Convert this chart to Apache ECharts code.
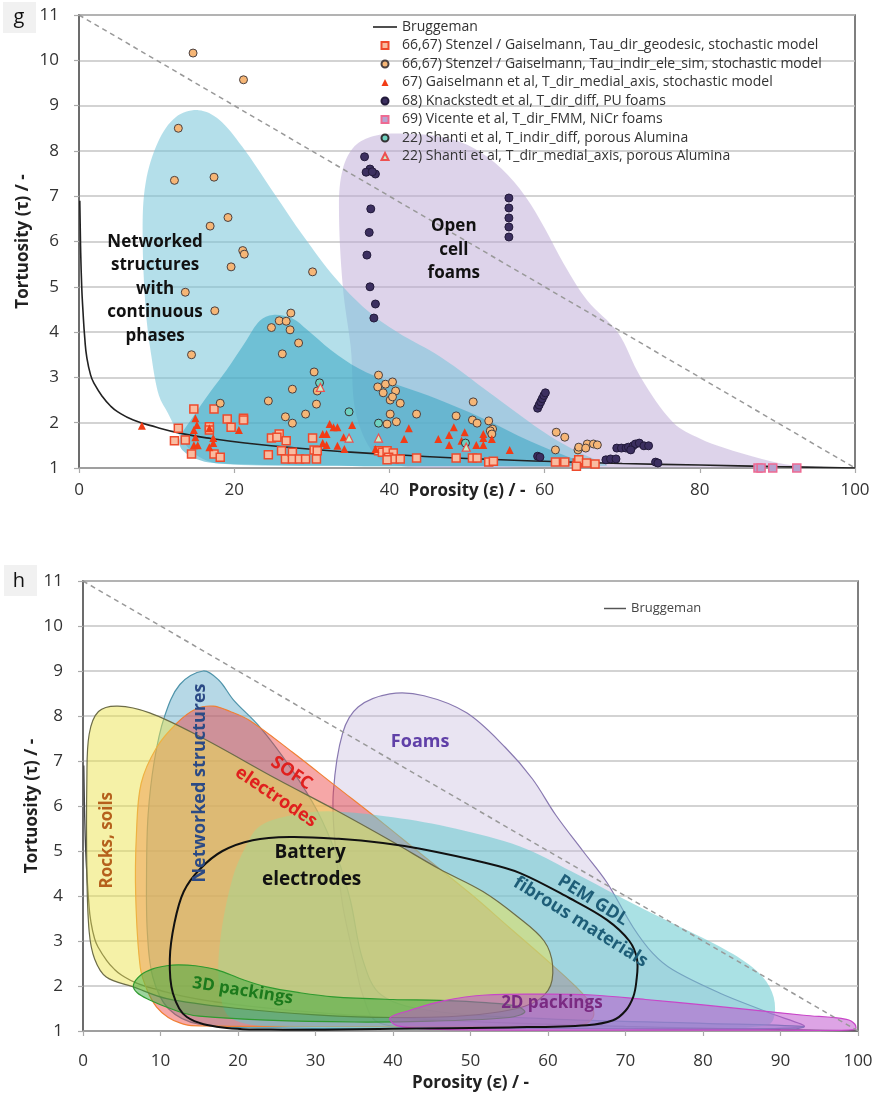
<!DOCTYPE html>
<html><head><meta charset="utf-8">
<script src="https://cdn.jsdelivr.net/npm/echarts@6/dist/echarts.min.js"></script>
<style>html,body{margin:0;padding:0;background:#fff}#c{width:880px;height:1101px}</style>
</head><body><div id="c"></div>
<script>
// ---------- data (porosity %, tortuosity) ----------
const xTicksTop = [0, 20, 40, 60, 80, 100];
const xTicksBottom = [0, 10, 20, 30, 40, 50, 60, 70, 80, 90, 100];
const yTicks = [1, 2, 3, 4, 5, 6, 7, 8, 9, 10, 11];
const limitLine = [[0, 11], [100, 1]];
const bruggeman = [[0.1,6.9],[0.2,5.9],[0.35,5.0],[0.5,4.5],[0.75,3.85],[1,3.45],[1.5,3.05],[2,2.85],[3,2.58],[4,2.38],[5,2.24],[7,2.06],[10,1.9],[13,1.77],[17,1.65],[22,1.54],[28,1.44],[35,1.35],[42,1.28],[50,1.21],[60,1.15],[70,1.1],[80,1.065],[90,1.03],[100,1.0]];

const sGeodesic = [[14.8,2.3],[17.4,2.3],[12.8,1.88],[12.3,1.6],[13.7,1.62],[14.5,1.31],[16.8,1.91],[16.8,1.84],[17.4,1.31],[18.2,1.24],[19.1,2.08],[19.6,1.9],[21.2,2.1],[21.2,2.06],[24.4,1.29],[24.8,1.66],[25.8,1.75],[25.5,1.68],[26.7,1.6],[26.1,1.38],[26.6,1.2],[27.5,1.35],[27.5,1.2],[28.4,1.2],[29.2,1.2],[30.1,1.66],[30.3,1.4],[30.7,1.38],[30.6,1.2],[38.6,1.38],[39.1,1.35],[39.7,1.38],[40.5,1.33],[39.9,1.24],[40.6,1.2],[41.4,1.2],[39.7,1.18],[43.5,1.22],[48.6,1.22],[50.7,1.22],[51.3,1.22],[52.8,1.13],[53.4,1.15],[61.4,1.13],[62.6,1.13],[64.2,1.11],[64.4,1.18],[65.4,1.11],[66.5,1.09],[64.1,1.04]];
const sEleSim = [[14.7,10.16],[21.2,9.57],[12.8,8.5],[12.3,7.35],[17.4,7.42],[19.2,6.53],[16.9,6.34],[21.1,5.8],[21.3,5.72],[19.6,5.44],[30.1,5.33],[13.7,4.88],[17.5,4.47],[14.5,3.5],[27.3,4.42],[25.8,4.25],[26.7,4.24],[24.8,4.1],[27.2,4.05],[28.3,3.76],[26.2,3.52],[30.3,3.12],[30.7,2.7],[27.5,2.74],[30.6,2.41],[24.4,2.48],[29.2,2.19],[26.6,2.13],[27.5,1.99],[18.2,2.43],[38.6,3.05],[38.5,2.79],[39.5,2.85],[40.4,2.9],[39.2,2.66],[40.8,2.7],[40.1,2.5],[40.4,2.57],[41.4,2.43],[40.1,2.19],[43.5,2.19],[39.7,1.97],[40.9,2.02],[48.6,2.15],[50.8,2.46],[50.7,2.06],[51.3,1.99],[52.8,2.04],[53.3,1.86],[53,1.82],[53.2,1.75],[61.5,1.79],[62.6,1.68],[61.4,1.4],[64.3,1.4],[64.4,1.46],[65.5,1.53],[66.3,1.53],[66.8,1.51],[65.3,1.44]];
const sMedial = [[8.1,1.93],[15,2.1],[15.2,1.95],[14.8,1.84],[15,1.68],[14.8,1.5],[15.3,1.5],[16.8,1.88],[17.3,1.66],[16.8,1.46],[17.3,1.55],[20.6,1.84],[32.3,1.97],[32.8,1.9],[33.3,1.9],[35.2,1.95],[31.4,1.75],[31.9,1.75],[34.1,1.68],[31.4,1.55],[31.9,1.51],[33.3,1.49],[34.2,1.42],[38.2,1.42],[42.5,1.88],[41.9,1.64],[46.3,1.64],[47.7,1.73],[48.3,1.9],[49.7,1.79],[49.3,1.6],[47.7,1.51],[51.2,1.51],[52.1,1.75],[52.1,1.66],[52.1,1.51],[53.2,1.64],[55.5,1.4]];
const sKnack = [[36.8,7.87],[37.5,7.6],[37,7.53],[38.2,7.49],[37.8,7.54],[37.6,6.72],[37.4,6.2],[37.1,5.7],[37.5,5.0],[38.2,4.62],[38,4.31],[55.4,6.96],[55.4,6.74],[55.4,6.52],[55.4,6.32],[55.4,6.1],[59.1,2.32],[59.3,2.39],[59.5,2.46],[59.7,2.53],[59.9,2.6],[60.1,2.66],[59.1,1.26],[59.4,1.24],[67.9,1.18],[68.5,1.2],[69.2,1.2],[69.3,1.44],[69.9,1.44],[70.5,1.44],[70.8,1.46],[71.4,1.49],[71.7,1.53],[72.2,1.55],[72.8,1.49],[73.4,1.49],[71.1,1.4],[74.3,1.13],[74.6,1.11]];
const sVicente = [[87.5,1.0],[87.9,1.0],[89.4,1.0],[92.5,1.0]];
const sShantiDiff = [[31,2.88],[34.8,2.24],[38.6,1.99],[49.8,1.55]];
const sShantiMedial = [[31.1,2.78],[34.8,1.66],[38.6,1.66],[49.9,1.46]];

// region outlines, panel g
const gFoams = [[33.5,6.8],[34,7.6],[35.5,8.1],[38,8.33],[42,8.38],[47,8.3],[51,8.05],[54.5,7.6],[57.5,7.0],[60,6.3],[62.5,5.5],[65.5,4.7],[69.4,4.0],[72.4,3.0],[76.6,2.0],[80,1.65],[83,1.45],[88,1.2],[92,1.06],[96,1.02],[60,1.02],[40,1.1],[36,2.0],[35,3.7],[34,5.0]];
const gNetwork = [[15.4,8.9],[18,8.7],[21,8.1],[25,7.1],[29,6.1],[33,5.2],[37,4.5],[41,4.0],[46.6,3.45],[53,2.65],[59.5,1.84],[64,1.38],[67,1.15],[68,1.05],[50,1.04],[30,1.05],[18,1.1],[15,1.3],[13,1.7],[11.5,2.2],[10.3,2.6],[9.3,3.5],[8.6,4.5],[8.2,6.2],[8.6,7.3],[10.2,8.2],[12.5,8.75]];
const gCore = [[25,4.38],[27.5,4.3],[29.4,4.05],[32.5,3.6],[36,3.2],[40,2.9],[45,2.6],[52,2.1],[58,1.6],[63,1.25],[66,1.08],[50,1.04],[30,1.05],[18,1.1],[15.6,1.17],[13.3,1.4],[13,1.65],[14.7,2.13],[17,2.7],[19,3.16],[21.5,3.8],[23.3,4.25]];

// region outlines, panel h
const hFoams = [[33.5,7.62],[35.5,8.2],[39.6,8.49],[44,8.45],[49.5,8.07],[54.5,7.3],[58,6.6],[61,5.8],[64.5,5.0],[67.6,4.3],[71,3.3],[73.5,2.73],[76.1,2.36],[82.2,1.84],[88.6,1.4],[92.9,1.09],[70,1.06],[45,1.08],[38,1.2],[36.1,1.8],[35,2.6],[33.5,3.8],[32.5,5.2],[32.3,6.3]];
const hPem = [[22.8,5.55],[27,5.8],[32,5.88],[40,5.75],[48,5.5],[56.4,5.1],[63,4.55],[69.3,3.98],[76,3.4],[82.2,2.87],[86.5,2.4],[88.6,1.98],[89.3,1.5],[88.5,1.15],[80,1.07],[50,1.06],[25,1.1],[19,1.3],[17.6,2.0],[17.7,3.0],[19.3,4.4],[21,5.1]];
const hNetwork = [[15.5,9.0],[17.5,8.8],[19.4,8.36],[22.8,7.76],[26.7,6.87],[30.2,5.9],[32.8,4.87],[34.5,3.9],[36.1,2.58],[38.5,1.8],[45,1.45],[60,1.27],[80,1.17],[93,1.1],[92,1.05],[60,1.05],[25,1.07],[15,1.15],[11,1.5],[9,2.2],[8.3,3.2],[8.2,4.5],[8.4,5.8],[9.2,7.0],[10.5,7.98],[12.5,8.7]];
const hRocks = [[0.5,6.6],[0.8,7.6],[2,8.1],[4.5,8.22],[8.6,8.07],[15,7.55],[25,6.6],[32.7,5.9],[40,5.2],[46,4.6],[51.6,4.1],[56,3.55],[59.5,3.0],[60.6,2.45],[60,1.9],[57,1.55],[50,1.35],[40,1.3],[30,1.36],[20,1.5],[10.8,1.72],[6.5,1.98],[3,2.2],[1.5,2.6],[0.8,3.2],[0.5,4.5]];
const hSofc = [[7.5,6.5],[9.5,7.3],[12.1,7.84],[14.5,8.15],[16.8,8.22],[19,8.1],[21.5,7.9],[27,7.2],[32.7,6.43],[38.7,5.62],[43.5,4.95],[50,4.05],[55,3.3],[60,2.55],[63.5,2.0],[65.5,1.6],[65.8,1.3],[64,1.12],[50,1.1],[30,1.1],[14,1.12],[12.5,1.18],[11,1.3],[9.5,1.53],[8.3,1.9],[7.4,2.4],[6.8,4.0],[6.9,5.4]];
const hBattery = [[11.2,2.6],[11.8,3.4],[13,4.1],[15.1,4.6],[18,5.0],[21.9,5.24],[26.7,5.31],[33,5.27],[38.7,5.18],[43.5,5.05],[51.6,4.75],[56.4,4.51],[62.8,3.95],[67.6,3.47],[70.5,3.0],[71.5,2.58],[71.4,2.1],[71,1.76],[70,1.45],[68.4,1.24],[65,1.13],[55,1.08],[40,1.05],[25.8,1.03],[18,1.08],[13.4,1.31],[11.6,1.84]];
const h3D = [[6.5,2.02],[7.5,2.25],[9,2.38],[10.8,2.45],[12.3,2.47],[14.5,2.45],[17.3,2.36],[20.5,2.15],[23.7,1.98],[28,1.85],[32.3,1.76],[40,1.7],[46,1.68],[52,1.63],[56,1.55],[57,1.42],[55,1.3],[45,1.22],[35,1.2],[23.7,1.24],[15,1.33],[12.9,1.4],[10.5,1.55],[8.6,1.69],[7,1.85]];
const h2D = [[39.6,1.29],[42,1.45],[46.5,1.67],[52,1.8],[60,1.82],[65.7,1.8],[72.6,1.7],[80,1.58],[86.3,1.47],[93,1.35],[98.5,1.26],[99.6,1.15],[99.6,1.03],[90,1.02],[60,1.02],[45,1.04],[40.5,1.12]];

// annotation texts [text, x, y, grid, color, size, rotationDeg]
const notes = [
  ['Networked\nstructures\nwith\ncontinuous\nphases', 9.8, 4.95, 0, '#111', 17, 0],
  ['Open\ncell\nfoams', 48.3, 5.81, 0, '#111', 17, 0],
  ['Rocks, soils', 3.1, 5.24, 1, '#b5601c', 17, 90],
  ['Networked structures', 15.1, 6.51, 1, '#2b4a85', 18, 90],
  ['SOFC', 26.9, 6.73, 1, '#e0201e', 18, -34],
  ['electrodes', 24.9, 6.2, 1, '#e0201e', 18, -34],
  ['Foams', 43.5, 7.42, 1, '#6040a8', 18, 0],
  ['Battery', 29.3, 4.96, 1, '#111', 19, 0],
  ['electrodes', 29.5, 4.36, 1, '#111', 19, 0],
  ['PEM GDL', 65.8, 3.9, 1, '#1e5e78', 18, -32],
  ['fibrous materials', 64.2, 3.42, 1, '#1e5e78', 18, -32],
  ['3D packings', 20.6, 1.89, 1, '#1c7a1c', 17, -9],
  ['2D packings', 60.5, 1.62, 1, '#7a2a82', 17, 0]
];

// ---------- chart ----------
const FONT = '"Open Sans", sans-serif';
const ICON_LINE = 'path://M0,0 L24,0 L24,1.6 L0,1.6 Z';
const ICON_SQUARE = 'path://M0,0 L8,0 L8,8 L0,8 Z';
const ICON_CIRCLE = 'path://M4,0 A4,4 0 1,1 4,8 A4,4 0 1,1 4,0 Z';
const ICON_TRIANGLE = 'path://M4,0 L8,8 L0,8 Z';
const chart = echarts.init(document.getElementById('c'));

function poly(name, pts, gi, fill, stroke, lw, z) {
  return {
    type: 'custom', name, xAxisIndex: gi, yAxisIndex: gi, z, silent: true,
    data: pts, encode: {x: 0, y: 1},
    renderItem(params, api) {
      if (params.dataIndex !== 0) return null;
      const cs = params.coordSys;
      return {
        type: 'polygon',
        shape: {points: pts.map(p => api.coord(p)), smooth: 0.35},
        style: {fill, stroke: stroke || 'none', lineWidth: lw || 0},
        clipPath: {type: 'rect', shape: {x: cs.x, y: cs.y, width: cs.width, height: cs.height}}
      };
    }
  };
}
function scat(name, data, symbol, fill, border, bw, size) {
  return {type: 'scatter', name, data, xAxisIndex: 0, yAxisIndex: 0, symbol, symbolSize: size || 8, z: 5,
    itemStyle: {color: fill, borderColor: border, borderWidth: bw, opacity: 1}, clip: false};
}
function xAxis(gi, ticks, labelMargin, nameGap) {
  return {
    type: 'value', gridIndex: gi, min: 0, max: 100, interval: ticks[1] - ticks[0],
    name: 'Porosity (ε) / -', nameLocation: 'middle', nameGap, nameMoveOverlap: false,
    nameTextStyle: {fontFamily: FONT, fontWeight: 'bold', fontSize: 17, color: '#222'},
    axisLine: {show: true, lineStyle: {color: '#999', width: 1.5}},
    axisTick: {show: true, length: 5, lineStyle: {color: '#aaa', width: 1.2}},
    axisLabel: {fontFamily: FONT, fontSize: 17, color: '#333', margin: labelMargin,
      formatter: v => ticks.includes(v) ? String(v) : ''},
    splitLine: {show: false}
  };
}
function yAxis(gi, nameGap) {
  return {
    type: 'value', gridIndex: gi, min: 1, max: 11, interval: 1,
    name: 'Tortuosity (τ) / -', nameLocation: 'middle', nameGap, nameRotate: 90, nameMoveOverlap: false,
    nameTextStyle: {fontFamily: FONT, fontWeight: 'bold', fontSize: 17, color: '#222'},
    axisLine: {show: true, lineStyle: {color: '#666', width: 1.5}},
    axisTick: {show: true, length: 5, lineStyle: {color: '#aaa', width: 1.2}},
    axisLabel: {fontFamily: FONT, fontSize: 17, color: '#333', margin: 20,
      formatter: v => yTicks.includes(v) ? String(v) : ''},
    splitLine: {show: true, lineStyle: {color: '#c4c4c4', width: 1.5}}
  };
}

const legendNames = [
  '66,67) Stenzel / Gaiselmann, Tau_dir_geodesic, stochastic model',
  '66,67) Stenzel / Gaiselmann, Tau_indir_ele_sim, stochastic model',
  '67) Gaiselmann et al, T_dir_medial_axis, stochastic model',
  '68) Knackstedt et al, T_dir_diff, PU foams',
  '69) Vicente et al, T_dir_FMM, NiCr foams',
  '22) Shanti et al, T_indir_diff, porous Alumina',
  '22) Shanti et al, T_dir_medial_axis, porous Alumina'
];
const legendIcons = [ICON_SQUARE, ICON_CIRCLE, ICON_TRIANGLE, ICON_CIRCLE, ICON_SQUARE, ICON_CIRCLE, ICON_TRIANGLE];

const option = {
  animation: false,
  backgroundColor: '#fff',
  textStyle: {fontFamily: FONT},
  grid: [
    {left: 79, top: 15, width: 776, height: 453, show: true, borderColor: '#555', borderWidth: 1.5, backgroundColor: 'transparent'},
    {left: 83, top: 581, width: 775, height: 450, show: true, borderColor: '#555', borderWidth: 1.5, backgroundColor: 'transparent'}
  ],
  xAxis: [xAxis(0, xTicksTop, 14, 15), xAxis(1, xTicksBottom, 22, 44)],
  yAxis: [yAxis(0, 47), yAxis(1, 42)],
  legend: [
    {orient: 'vertical', left: 368, top: 15, itemWidth: 24, itemHeight: 7, itemGap: 4.5, selectedMode: false,
      symbolKeepAspect: true,
      textStyle: {fontFamily: FONT, fontSize: 14, color: '#333', lineHeight: 14},
      data: [{name: 'Bruggeman', icon: ICON_LINE}].concat(legendNames.map((n, i) => ({name: n, icon: legendIcons[i]})))},
    {orient: 'vertical', left: 599, top: 597, itemWidth: 22, itemHeight: 8, selectedMode: false,
      symbolKeepAspect: true,
      textStyle: {fontFamily: FONT, fontSize: 13, color: '#444'},
      data: [{name: 'Bruggeman', icon: ICON_LINE, itemStyle: {color: '#555'}}]}
  ],
  series: [
    poly('gFoams', gFoams, 0, 'rgba(188,168,214,0.5)', null, 0, 1),
    poly('gNetwork', gNetwork, 0, 'rgba(118,196,216,0.55)', null, 0, 1),
    poly('gCore', gCore, 0, 'rgba(55,165,195,0.55)', null, 0, 1),
    {type: 'line', name: 'limit', data: limitLine, xAxisIndex: 0, yAxisIndex: 0, symbol: 'none', z: 3, silent: true,
      lineStyle: {color: '#999', width: 1.5, type: [5, 4]}},
    {type: 'line', name: 'Bruggeman', data: bruggeman, xAxisIndex: 0, yAxisIndex: 0, symbol: 'none', smooth: true, z: 4,
      lineStyle: {color: '#222', width: 1.6}, itemStyle: {color: '#222'}},
    scat(legendNames[0], sGeodesic, 'rect', '#f9bca0', '#ee4a2c', 1.5, 8),
    scat(legendNames[1], sEleSim, 'circle', '#f6b676', '#4a4040', 1, 8),
    scat(legendNames[2], sMedial, 'triangle', '#f23c16', '#f23c16', 0, 8),
    scat(legendNames[3], sKnack, 'circle', '#3c2f60', '#221a3a', 1, 8),
    scat(legendNames[4], sVicente, 'rect', '#b8a2cf', '#ee6a92', 1.5, 8),
    scat(legendNames[5], sShantiDiff, 'circle', '#6fd2c0', '#333', 1, 8),
    scat(legendNames[6], sShantiMedial, 'triangle', '#c8eec4', '#ee5050', 1.2, 8),

    {type: 'line', name: 'Bruggeman', data: bruggeman, xAxisIndex: 1, yAxisIndex: 1, symbol: 'none', smooth: true, z: 1,
      lineStyle: {color: '#444', width: 1.3}, itemStyle: {color: '#444'}},
    poly('hFoams', hFoams, 1, 'rgba(196,184,222,0.38)', '#8878b0', 1.2, 2),
    poly('hNetwork', hNetwork, 1, 'rgba(110,178,205,0.5)', '#4f94aa', 1.2, 2),
    poly('hSofc', hSofc, 1, 'rgba(236,60,60,0.45)', '#f08034', 1.2, 2),
    poly('hPem', hPem, 1, 'rgba(100,200,205,0.55)', null, 0, 2),
    poly('hRocks', hRocks, 1, 'rgba(236,228,80,0.5)', '#6c6c48', 1.2, 2),
    poly('h3D', h3D, 1, 'rgba(60,170,60,0.5)', '#2f9a2f', 1.2, 2),
    poly('h2D', h2D, 1, 'rgba(190,80,205,0.52)', '#c846c8', 1.2, 2),
    poly('hBattery', hBattery, 1, 'none', '#111', 2, 3),
    {type: 'line', name: 'limit2', data: limitLine, xAxisIndex: 1, yAxisIndex: 1, symbol: 'none', z: 4, silent: true,
      lineStyle: {color: '#999', width: 1.5, type: [5, 4]}}
  ]
};
chart.setOption(option);

const graphics = [
  {type: 'rect', shape: {x: 3, y: 2, width: 33, height: 31}, style: {fill: '#f1f1f1'}, z: 100},
  {type: 'text', x: 19, y: 17, z: 101, style: {text: 'g', fill: '#111', font: '20px ' + FONT, align: 'center', verticalAlign: 'middle', textAlign: 'center', textVerticalAlign: 'middle'}},
  {type: 'rect', shape: {x: 4, y: 565, width: 33, height: 31}, style: {fill: '#f1f1f1'}, z: 100},
  {type: 'text', x: 19, y: 581, z: 101, style: {text: 'h', fill: '#111', font: '20px ' + FONT, align: 'center', verticalAlign: 'middle', textAlign: 'center', textVerticalAlign: 'middle'}}
];
notes.forEach(n => {
  const p = chart.convertToPixel({gridIndex: n[3]}, [n[1], n[2]]);
  graphics.push({type: 'text', x: p[0], y: p[1], rotation: n[6] * Math.PI / 180, z: 50,
    style: {text: n[0], fill: n[4], font: 'bold ' + n[5] + 'px ' + FONT, lineHeight: 23.5,
      align: 'center', verticalAlign: 'middle', textAlign: 'center', textVerticalAlign: 'middle'}});
});
chart.setOption({graphic: graphics});
</script></body></html>
